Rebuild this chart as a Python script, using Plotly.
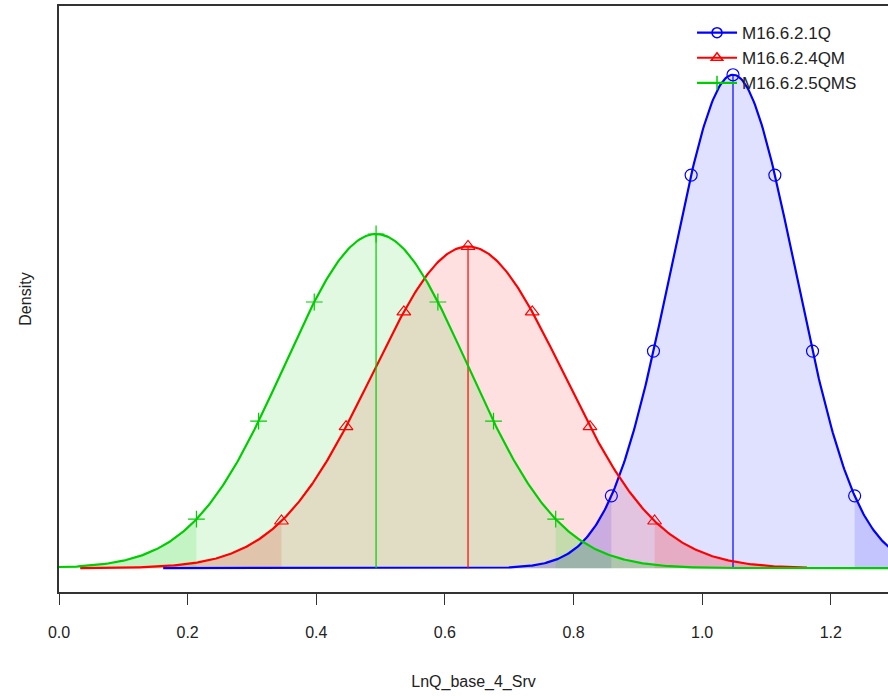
import numpy as np
import plotly.graph_objects as go

# Series parameters
names = ["M16.6.2.1Q", "M16.6.2.4QM", "M16.6.2.5QMS"]
means = [1.048, 0.636, 0.493]
sds = [0.0965, 0.148, 0.1425]
x_from = [0.162, 0.033, -0.05]
x_to = [1.35, 1.163, 1.35]
line_colors = ["#0000FF", "#FF0000", "#00CD00"]
fill_colors = ["rgba(0,0,255,0.12)", "rgba(255,0,0,0.12)", "rgba(0,205,0,0.12)"]
symbols = ["circle-open", "triangle-up-open", "cross-thin-open"]
quantile_z = [-1.96, -1.2816, -0.6745, 0.0, 0.6745, 1.2816, 1.96]

x_ticks = [0.0, 0.2, 0.4, 0.6, 0.8, 1.0, 1.2]
x_tick_labels = ["0.0", "0.2", "0.4", "0.6", "0.8", "1.0", "1.2"]


def dens(x, m, s):
    return np.exp(-0.5 * ((x - m) / s) ** 2) / (s * np.sqrt(2 * np.pi))


fig = go.Figure()

# fills (whole area + tails)
for i in range(3):
    m, s = means[i], sds[i]
    xs = np.linspace(x_from[i], x_to[i], 600)
    fig.add_trace(go.Scatter(x=xs, y=dens(xs, m, s), mode="lines", line=dict(width=0),
                             fill="tozeroy", fillcolor=fill_colors[i], showlegend=False,
                             hoverinfo="skip"))
    lo, hi = m - 1.96 * s, m + 1.96 * s
    xl = np.linspace(x_from[i], lo, 200)
    fig.add_trace(go.Scatter(x=xl, y=dens(xl, m, s), mode="lines", line=dict(width=0),
                             fill="tozeroy", fillcolor=fill_colors[i], showlegend=False,
                             hoverinfo="skip"))
    if hi < x_to[i]:
        xr = np.linspace(hi, x_to[i], 200)
        fig.add_trace(go.Scatter(x=xr, y=dens(xr, m, s), mode="lines", line=dict(width=0),
                                 fill="tozeroy", fillcolor=fill_colors[i], showlegend=False,
                                 hoverinfo="skip"))

# curves, mean lines, markers
for i in range(3):
    m, s = means[i], sds[i]
    xs = np.linspace(x_from[i], x_to[i], 600)
    fig.add_trace(go.Scatter(x=xs, y=dens(xs, m, s), mode="lines",
                             line=dict(color=line_colors[i], width=2.2), showlegend=False))
    fig.add_trace(go.Scatter(x=[m, m], y=[0, dens(m, m, s)], mode="lines",
                             line=dict(color=line_colors[i], width=1.2), showlegend=False))
    qx = [m + z * s for z in quantile_z]
    fig.add_trace(go.Scatter(x=qx, y=[dens(q, m, s) for q in qx], mode="markers",
                             marker=dict(symbol=symbols[i], size=12, color=line_colors[i],
                                         line=dict(width=1.2, color=line_colors[i])),
                             showlegend=False))
    # legend entry
    fig.add_trace(go.Scatter(x=[None], y=[None], mode="lines+markers", name=names[i],
                             line=dict(color=line_colors[i], width=2.2),
                             marker=dict(symbol=symbols[i], size=10, color=line_colors[i],
                                         line=dict(width=1.5, color=line_colors[i]))))

fig.update_layout(
    width=888, height=696,
    margin=dict(l=59, r=0, t=6, b=104),
    plot_bgcolor="white", paper_bgcolor="white",
    font=dict(family="Liberation Sans, Arial, sans-serif", size=16, color="#222222"),
    showlegend=True,
    legend=dict(x=0.7636, y=0.9845, xanchor="left", yanchor="top",
                bgcolor="rgba(0,0,0,0)", font=dict(size=17, color="#222222"),
                tracegroupgap=0, itemwidth=40),
    xaxis=dict(range=[0, 1.289], tickvals=x_ticks, ticktext=x_tick_labels,
               showgrid=False, zeroline=False, showline=True, mirror=True,
               linecolor="#333333", linewidth=1.5, ticks="outside", ticklen=11,
               tickcolor="#333333", tickfont=dict(size=16), ticklabelstandoff=14,
               title=dict(text="LnQ_base_4_Srv", font=dict(size=16), standoff=36)),
    yaxis=dict(range=[-0.2, 4.71], showticklabels=False, ticks="", showgrid=False,
               zeroline=False, showline=True, linecolor="#333333", linewidth=1.5,
               title=dict(text="Density", font=dict(size=16), standoff=22)),
)

fig.write_html("out.html")
